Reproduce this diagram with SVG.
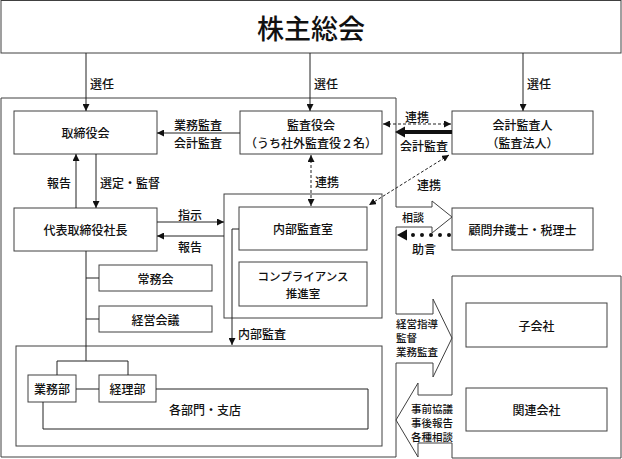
<svg xmlns="http://www.w3.org/2000/svg" width="622" height="459" viewBox="0 0 622 459">
<defs>
<marker id="ah" markerUnits="userSpaceOnUse" markerWidth="7" markerHeight="7" refX="7" refY="3.5" orient="auto-start-reverse">
<path d="M0,0 L7,3.5 L0,7 z" fill="#111"/>
</marker>
</defs>
<style>
text{font-family:"Noto Sans CJK JP","Noto Sans CJK SC",sans-serif;font-size:12px;font-weight:500;fill:#111;dominant-baseline:central}
.c{text-anchor:middle}
.s{font-size:10.5px}
.box{fill:#fff;stroke:#404040;stroke-width:1}
.frame{fill:none;stroke:#404040;stroke-width:1}
.ln{fill:none;stroke:#222;stroke-width:1}
.arr{fill:none;stroke:#222;stroke-width:1;marker-end:url(#ah)}
.dash{fill:none;stroke:#222;stroke-width:1;stroke-dasharray:3 2;marker-start:url(#ah);marker-end:url(#ah)}
</style>
<rect width="622" height="459" fill="#fff"/>

<g id="frames">
<path class="frame" d="M1,98 H396 V207 H432 V201 L452,217 L432,233 V227 H396 V314 H433 V299 L452,338 L433,377 V363 H396 V457 H1 Z"/>
<path class="frame" d="M452,276 H621 V458 H452 V443 H418 V457 L396,420 L418,383 V395 H452 Z"/>
<rect class="frame" x="224" y="194" width="158" height="124"/>
<rect class="frame" x="16" y="346" width="366" height="100"/>
</g>

<g id="n-shareholders">
<rect class="box" x="1" y="0.5" width="620" height="52.5"/>
<text class="c" x="311" y="27" style="font-size:27px">株主総会</text>
</g>
<g id="n-board">
<rect class="box" x="14" y="111" width="143" height="43"/>
<text class="c" x="85.5" y="132.5">取締役会</text>
</g>
<g id="n-auditors">
<rect class="box" x="240" y="111" width="142" height="43"/>
<text class="c" x="311" y="124">監査役会<tspan x="311" dy="18">（うち社外監査役２名）</tspan></text>
</g>
<g id="n-accounting">
<rect class="box" x="452" y="111" width="141" height="43"/>
<text class="c" x="522.5" y="124">会計監査人<tspan x="522.5" dy="18">（監査法人）</tspan></text>
</g>
<g id="n-president">
<rect class="box" x="14" y="208" width="143" height="43"/>
<text class="c" x="85.5" y="229.5">代表取締役社長</text>
</g>
<g id="n-internal">
<rect class="box" x="239" y="207" width="128" height="43"/>
<text class="c" x="303" y="228.5">内部監査室</text>
</g>
<g id="n-compliance">
<rect class="box" x="239" y="262" width="128" height="44"/>
<text class="c" x="303" y="275.5" style="font-size:11.5px">コンプライアンス<tspan x="303" dy="17">推進室</tspan></text>
</g>
<g id="n-advisors">
<rect class="box" x="452" y="208" width="141" height="42"/>
<text class="c" x="522.5" y="229">顧問弁護士・税理士</text>
</g>
<g id="n-jomukai">
<rect class="box" x="99" y="265" width="113" height="26"/>
<text class="c" x="155.5" y="278">常務会</text>
</g>
<g id="n-keiei">
<rect class="box" x="99" y="306" width="113" height="26"/>
<text class="c" x="155.5" y="319">経営会議</text>
</g>
<g id="n-gyomu">
<rect class="box" x="28" y="375" width="48" height="27"/>
<text class="c" x="52" y="388.5">業務部</text>
</g>
<g id="n-keiri">
<rect class="box" x="99" y="375" width="57" height="27"/>
<text class="c" x="127.5" y="388.5">経理部</text>
</g>
<g id="n-branches">
<text class="c" x="205" y="409">各部門・支店</text>
</g>
<g id="n-sub">
<rect class="box" x="466" y="303" width="141" height="44"/>
<text class="c" x="536.5" y="325">子会社</text>
</g>
<g id="n-assoc">
<rect class="box" x="466" y="388" width="141" height="43"/>
<text class="c" x="536.5" y="409.5">関連会社</text>
</g>

<g id="connectors">
<line class="arr" x1="86" y1="53" x2="86" y2="111"/>
<line class="arr" x1="310" y1="53" x2="310" y2="111"/>
<line class="arr" x1="523" y1="53" x2="523" y2="111"/>
<line class="arr" x1="240" y1="133" x2="157" y2="133"/>
<line class="arr" x1="76" y1="208" x2="76" y2="154"/>
<line class="arr" x1="96" y1="154" x2="96" y2="208"/>
<line class="arr" x1="157" y1="222" x2="224" y2="222"/>
<line class="arr" x1="224" y1="236" x2="157" y2="236"/>
<line class="dash" x1="383" y1="124" x2="451" y2="124"/>
<line class="dash" x1="311" y1="155" x2="311" y2="206"/>
<line class="dash" x1="449" y1="155" x2="369" y2="205"/>
<line x1="452" y1="132" x2="403" y2="132" stroke="#111" stroke-width="4"/>
<polygon points="395,132 405,126.5 405,137.5" fill="#111"/>
<line x1="449" y1="235" x2="411" y2="235" stroke="#111" stroke-width="4" stroke-linecap="round" stroke-dasharray="0 9"/>
<polygon points="397,235 407,229.5 407,240.5" fill="#111"/>
<polyline class="arr" points="239,229 232,229 232,345"/>
<line class="ln" x1="86" y1="251" x2="86" y2="361"/>
<line class="ln" x1="86" y1="278" x2="99" y2="278"/>
<line class="ln" x1="86" y1="319" x2="99" y2="319"/>
<polyline class="ln" points="57,375 57,361 128,361 128,375"/>
<line class="ln" x1="76" y1="389" x2="99" y2="389"/>
<polyline class="ln" points="156,389 368,389 368,429 43,429 43,402"/>
</g>

<g id="labels">
<text x="90" y="83">選任</text>
<text x="314" y="83">選任</text>
<text x="527" y="83">選任</text>
<text class="c" x="198" y="124">業務監査<tspan x="198" dy="18">会計監査</tspan></text>
<text class="c" x="417" y="116">連携</text>
<text class="c" x="424" y="145">会計監査</text>
<text class="c" x="429" y="184">連携</text>
<text x="315" y="181">連携</text>
<text class="c" x="59" y="182">報告</text>
<text x="100" y="182">選定・監督</text>
<text class="c" x="190" y="214">指示</text>
<text class="c" x="190" y="246">報告</text>
<text class="c" x="413" y="217" style="font-size:11px">相談</text>
<text class="c" x="424" y="248">助言</text>
<text x="238" y="333">内部監査</text>
<text class="s" x="396" y="323">経営指導<tspan x="396" dy="14">監督</tspan><tspan x="396" dy="14">業務監査</tspan></text>
<text class="s" x="411" y="408">事前協議<tspan x="411" dy="14">事後報告</tspan><tspan x="411" dy="14">各種相談</tspan></text>
</g>
</svg>
